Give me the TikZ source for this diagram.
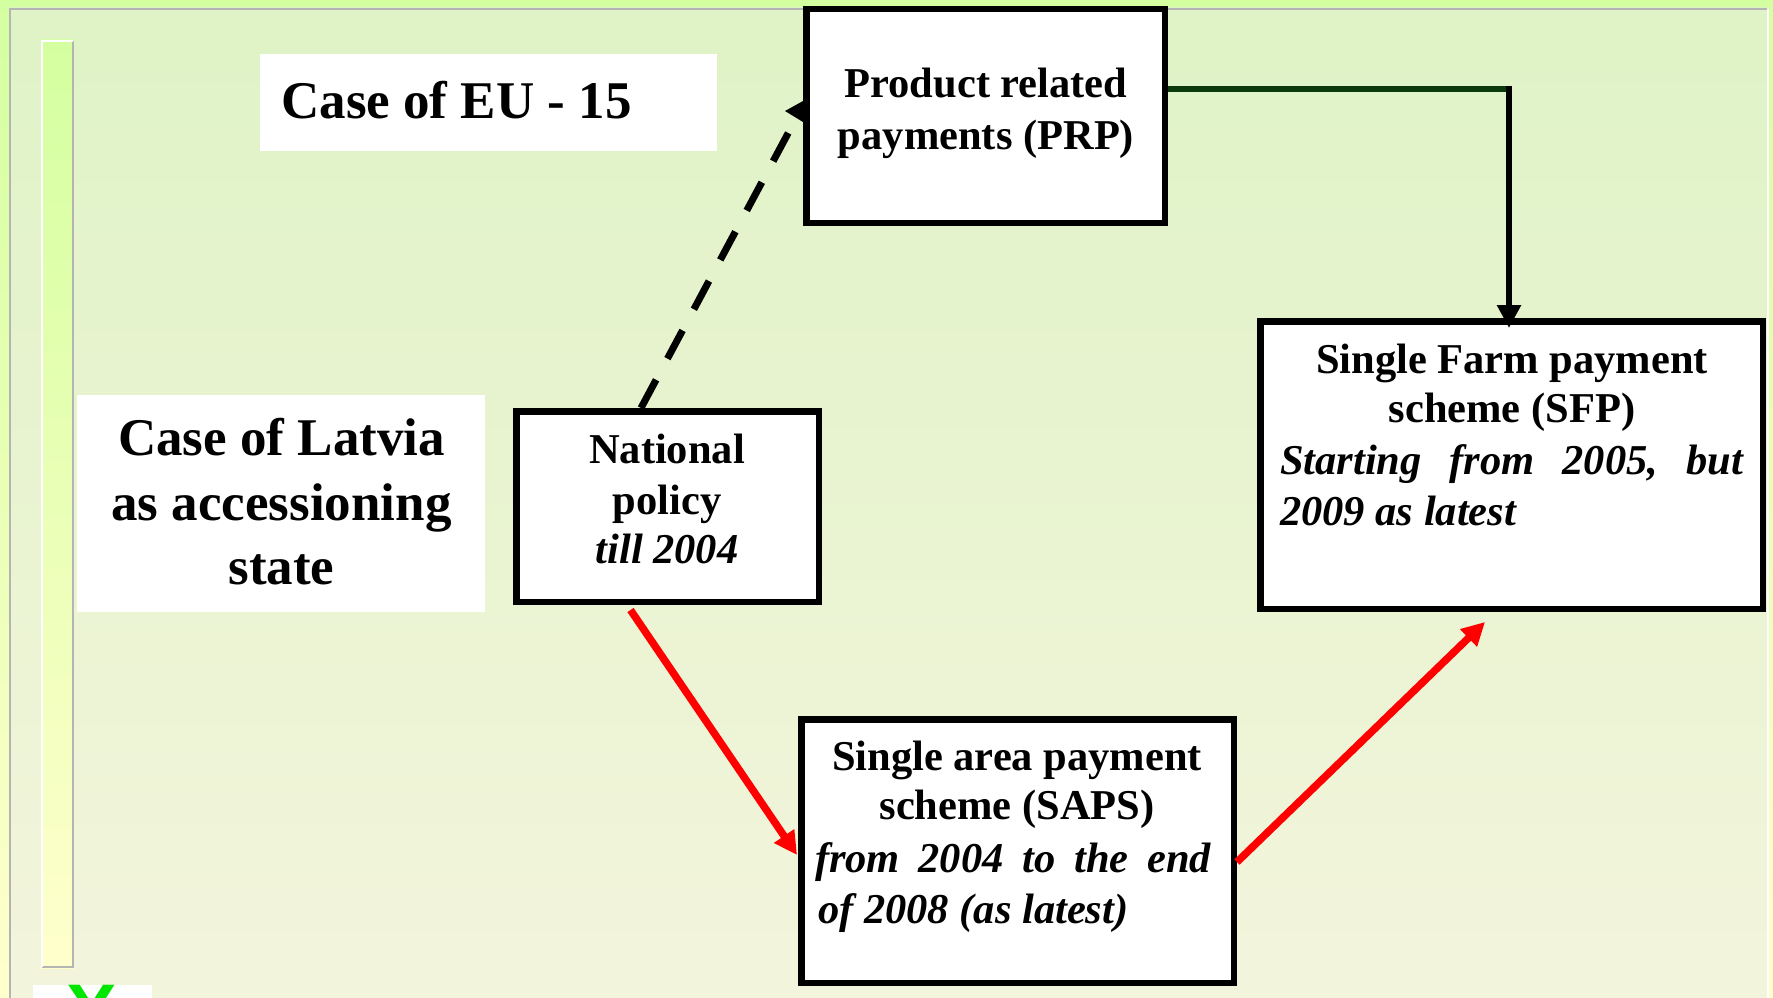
\documentclass[tikz,border=0pt]{standalone}
\usepackage{fontspec}
\setmainfont{Liberation Serif}
\newfontfamily\xfont{Liberation Sans}
\usetikzlibrary{arrows.meta}
\definecolor{outerA}{HTML}{D4FFA0}
\definecolor{outerB}{HTML}{FFFFCC}
\definecolor{innerA}{HTML}{DFF3C6}
\definecolor{innerB}{HTML}{F3F4DC}
\definecolor{edgegray}{HTML}{B4B4B4}
\definecolor{dkgreen}{HTML}{0A3A0A}
\definecolor{arrowred}{HTML}{FF0000}
\definecolor{xgreen}{HTML}{00E600}
\begin{document}
\begin{tikzpicture}[x=1pt,y=-1pt,
  box/.style={draw=black, line width=6.5pt, fill=white, rectangle, inner sep=0pt},
  whitebox/.style={fill=white, rectangle, inner sep=0pt, outer sep=0pt},
  txt/.style={inner sep=0pt, outer sep=0pt, anchor=base, font=\fontsize{42.5}{50}\selectfont\bfseries},
  itx/.style={txt, anchor=base west, font=\fontsize{42.5}{50}\selectfont\bfseries\itshape},
  bigtxt/.style={txt, font=\fontsize{53}{63}\selectfont\bfseries},
  redarr/.style={draw=arrowred, line width=7.5pt, -{Triangle[length=23pt,width=23pt]}},
  blackarr/.style={draw=black, line width=6.5pt, -{Triangle[length=23pt,width=23pt]}},
  dashline/.style={draw=black, line width=7pt, dash pattern=on 32pt off 24pt}
]
\useasboundingbox (0,0) rectangle (1773,998);
% background
\shade[top color=outerA, bottom color=outerB] (0,0) rectangle (1773,998);
\shade[top color=innerA, bottom color=innerB] (9,8) rectangle (1768,998);
\draw[edgegray, line width=2pt] (10,998) -- (10,9) -- (1767,9);
\draw[white, line width=1.5pt] (1768,9) -- (1768,998);
% left bar
\shade[top color=outerA, bottom color=outerB] (41,40) rectangle (74,968);
\draw[edgegray, line width=2pt] (73,41) -- (73,967) -- (42,967);
\draw[white, line width=2pt] (42,967) -- (42,41) -- (73,41);
% bottom X box
\begin{scope}
\clip (0,0) rectangle (1773,998);
\fill[white] (33,985) rectangle (152,1000);
\node[inner sep=0pt, anchor=north, text=xgreen, font=\fontsize{76}{80}\selectfont\xfont\bfseries] (xmark) at (92,985) {X};
\end{scope}
% white label boxes
\node[whitebox, minimum width=457pt, minimum height=97pt] (eu) at (488.5,102.5) {};
\node[whitebox, minimum width=408pt, minimum height=217pt] (lv) at (281,503.5) {};
\node[bigtxt] (eut) at (456.5,118) {Case of EU - 15};
\node[bigtxt] (lv1) at (281.5,455) {Case of Latvia};
\node[bigtxt] (lv2) at (281.5,520) {as accessioning};
\node[bigtxt] (lv3) at (281.5,584) {state};
% boxes
\node[box, minimum width=358.5pt, minimum height=213.5pt] (prp) at (985.5,116) {};
\node[box, minimum width=302.5pt, minimum height=190.5pt] (nat) at (667.5,506.5) {};
\node[box, minimum width=502.5pt, minimum height=287.5pt] (sfp) at (1511.5,465) {};
\node[box, minimum width=432.5pt, minimum height=263.5pt] (saps) at (1017.5,851) {};
% texts
\node[txt] (prp1) at (986,98) {Product related};
\node[txt] (prp2) at (986,149) {payments (PRP)};
\node[txt] (nat1) at (667,463) {National};
\node[txt] (nat2) at (667,514) {policy};
\node[txt, font=\fontsize{42.5}{50}\selectfont\bfseries\itshape] (nat3) at (667,563) {till 2004};
\node[txt] (sfp1) at (1512,373) {Single Farm payment};
\node[txt] (sfp2) at (1512,422) {scheme (SFP)};
\node[itx] (sfp3) at (1280,474) {\hbox to 463pt{Starting\hfill from\hfill 2005,\hfill but}};
\node[itx] (sfp4) at (1280,525) {2009 as latest};
\node[txt] (saps1) at (1017,770) {Single area payment};
\node[txt] (saps2) at (1017,819) {scheme (SAPS)};
\node[itx] (saps3) at (815,872) {\hbox to 396pt{from\hfill 2004\hfill to\hfill the\hfill end}};
\node[itx] (saps4) at (818,923) {of 2008 (as latest)};
% connectors
\draw[dashline] ([shift={(-26.5,0)}]nat.north) -- ([shift={(-3,-5)}]prp.west);
\fill[black] ([shift={(-18,-5)}]prp.west) -- ([shift={(0,-15)}]prp.west) -- ([shift={(0,6)}]prp.west) -- cycle;
\coordinate (bend) at (1509,89);
\draw[dkgreen, line width=6.5pt] ([shift={(0,-27)}]prp.east) -- ([shift={(-3,0)}]bend);
\draw[blackarr] ([shift={(0,-3.25)}]bend) -- ([shift={(-2.5,10)}]sfp.north);
\draw[redarr] ([shift={(-37,5)}]nat.south) -- ([shift={(-1,4)}]saps.west);
\draw[redarr] ([shift={(0,11)}]saps.east) -- ([shift={(-26.5,10)}]sfp.south);
\end{tikzpicture}
\end{document}
